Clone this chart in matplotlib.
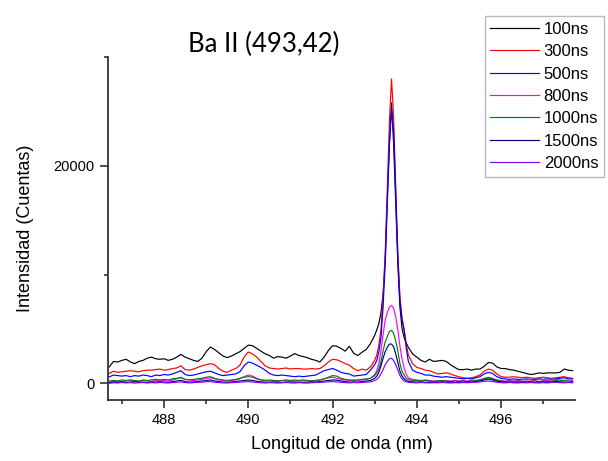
import numpy as np
import matplotlib
matplotlib.use("Agg")
import matplotlib.pyplot as plt
from matplotlib.ticker import MultipleLocator

plt.rcParams['font.family'] = ['Liberation Sans', 'DejaVu Sans']

# wavelength grid: 0.1 nm steps, 0.05 nm around the line
wl = np.round(np.concatenate([
    np.arange(486.7, 492.95, 0.1),
    np.arange(493.0, 493.78, 0.05),
    np.arange(493.8, 497.75, 0.1),
]), 2)

labels = ['100ns', '300ns', '500ns', '800ns', '1000ns', '1500ns', '2000ns']
colors = ['#000000', '#ff0000', '#0000ff', '#ff00ff', '#008000', '#000080', '#8000ff']

s100 = [1500, 2000, 1950, 2100, 2200, 1960, 1800, 2000, 2100, 2300,
        2400, 2250, 2200, 2250, 2100, 2200, 2400, 2650, 2400, 2250,
        2100, 2000, 2300, 2900, 3330, 3100, 2800, 2500, 2350, 2500,
        2700, 2900, 3200, 3500, 3450, 3200, 2950, 2700, 2550, 2300,
        2450, 2400, 2300, 2500, 2720, 2550, 2450, 2350, 2200, 2100,
        1950, 2400, 3000, 3450, 3400, 3200, 2950, 3400, 2750, 2550,
        2850, 3100, 3650,
        4400, 4900, 5500, 6500, 8200, 11300, 17000, 22000, 25800, 22000,
        16500, 11000, 7000, 5000, 4200, 3700,
        3300, 2700, 2400, 2100, 1950, 2200, 2000, 2050, 2100, 2000,
        1700, 1450, 1250, 1250, 1300, 1200, 1300, 1300, 1550, 1900,
        1850, 1500, 1350, 1350, 1250, 1200, 1100, 1000, 900, 800,
        850, 950, 900, 950, 950, 950, 1000, 1300, 1200, 1150]

s300 = [900, 1100, 1000, 1050, 1100, 1150, 1100, 1050, 1150, 1200,
        1200, 1250, 1300, 1200, 1250, 1350, 1400, 1600, 1250, 1200,
        1300, 1450, 1600, 1700, 1800, 1700, 1350, 1100, 1000, 1200,
        1350, 1650, 2400, 2870, 2700, 2400, 2000, 1600, 1400, 1350,
        1300, 1350, 1400, 1300, 1350, 1350, 1300, 1300, 1350, 1300,
        1350, 1600, 1950, 2200, 2150, 2000, 1800, 1650, 1350, 1150,
        1300, 1200, 1500,
        2100, 2600, 3500, 5000, 8000, 12000, 18000, 24000, 28000, 24500,
        18000, 12000, 8000, 6000, 5000, 3600,
        2600, 1800, 1450, 1350, 1200, 1150, 1000, 850, 900, 950,
        850, 700, 600, 500, 450, 500, 600, 750, 1100, 1300,
        1200, 850, 600, 550, 550, 600, 550, 500, 550, 500,
        450, 500, 550, 500, 450, 500, 550, 600, 500, 450]

s500 = [580, 750, 700, 650, 700, 600, 700, 650, 750, 700,
        600, 750, 700, 800, 750, 850, 1000, 1150, 800, 700,
        750, 850, 950, 1050, 1100, 950, 800, 700, 750, 800,
        850, 1050, 1600, 1950, 1850, 1650, 1450, 1200, 900, 750,
        700, 750, 700, 650, 600, 650, 600, 650, 700, 750,
        950, 1150, 1250, 1350, 1200, 1000, 900, 850, 650, 700,
        750, 800, 1200,
        1700, 2100, 2900, 4200, 7000, 11000, 16500, 22000, 25200, 23000,
        17500, 11500, 7500, 5800, 4800, 3200,
        2000, 1200, 1000, 900, 750, 750, 650, 600, 550, 600,
        550, 500, 450, 400, 450, 400, 500, 600, 850, 1000,
        900, 600, 450, 400, 350, 400, 350, 350, 400, 350,
        350, 400, 350, 400, 350, 400, 450, 500, 400, 400]

s800 = [100, 150, 200, 150, 200, 250, 200, 150, 250, 200,
        150, 250, 300, 250, 200, 300, 400, 550, 350, 300,
        250, 300, 350, 450, 500, 400, 300, 250, 200, 250,
        300, 400, 600, 750, 650, 450, 300, 250, 200, 250,
        200, 250, 200, 250, 300, 250, 200, 250, 200, 250,
        300, 400, 500, 550, 450, 350, 300, 250, 300, 250,
        300, 350, 450,
        800, 1150, 1800, 3000, 4500, 5800, 6500, 7000, 7150, 6900,
        6100, 4900, 3400, 2200, 1400, 800,
        500, 350, 300, 250, 300, 250, 200, 250, 200, 250,
        200, 250, 200, 250, 200, 300, 250, 300, 450, 550,
        450, 300, 250, 200, 250, 300, 250, 300, 350, 300,
        250, 350, 300, 250, 300, 350, 300, 250, 300, 250]

s1000 = [200, 250, 200, 300, 250, 300, 250, 200, 300, 250,
         300, 350, 300, 350, 300, 400, 450, 500, 350, 300,
         350, 400, 450, 550, 600, 450, 350, 300, 250, 300,
         350, 450, 550, 600, 550, 400, 300, 250, 300, 250,
         200, 250, 300, 250, 200, 250, 300, 250, 200, 250,
         300, 400, 550, 700, 650, 450, 350, 300, 250, 300,
         350, 400, 450,
         700, 950, 1300, 2000, 3000, 3800, 4300, 4750, 4860, 4600,
         3900, 3000, 1800, 1100, 750, 450,
         350, 250, 250, 200, 250, 200, 150, 200, 250, 200,
         150, 200, 150, 200, 150, 200, 250, 300, 400, 500,
         400, 250, 200, 150, 200, 150, 200, 150, 200, 150,
         200, 150, 200, 150, 200, 250, 200, 250, 200, 150]

s1500 = [50, 100, 80, 120, 60, 100, 140, 80, 100, 60,
         120, 100, 150, 100, 80, 150, 200, 250, 150, 100,
         120, 150, 200, 250, 300, 200, 150, 100, 80, 120,
         150, 200, 250, 300, 250, 180, 120, 100, 80, 120,
         100, 60, 100, 120, 80, 100, 60, 100, 120, 100,
         150, 200, 250, 300, 280, 200, 150, 100, 120, 100,
         150, 200, 250,
         450, 650, 1000, 1600, 2300, 2900, 3300, 3600, 3600, 3350,
         2700, 1900, 1100, 650, 400, 250,
         180, 120, 100, 120, 80, 100, 60, 100, 120, 80,
         100, 60, 100, 80, 120, 100, 150, 200, 300, 380,
         300, 180, 120, 80, 100, 60, 100, 80, 120, 100,
         60, 100, 120, 80, 100, 150, 120, 100, 80, 100]

s2000 = [0, 40, 20, 60, 30, 50, 10, 40, 60, 20,
         50, 30, 70, 40, 20, 60, 90, 120, 60, 30,
         50, 80, 100, 130, 150, 90, 60, 30, 20, 50,
         70, 100, 120, 150, 110, 70, 40, 20, 50, 30,
         10, 40, 60, 30, 20, 50, 30, 10, 40, 60,
         80, 100, 130, 150, 120, 80, 50, 30, 60, 40,
         70, 100, 120,
         250, 350, 550, 850, 1250, 1700, 2000, 2250, 2290, 2100,
         1700, 1200, 700, 400, 200, 120,
         80, 50, 30, 60, 40, 20, 50, 30, 60, 40,
         20, 50, 30, 60, 40, 70, 90, 120, 170, 200,
         150, 90, 50, 30, 60, 40, 20, 50, 30, 60,
         40, 20, 50, 30, 60, 80, 50, 30, 60, 40]

series = [s100, s300, s500, s800, s1000, s1500, s2000]

fig = plt.figure(figsize=(6.08, 4.61), dpi=100)
ax = fig.add_axes([0.177, 0.132, 0.769, 0.744])

for vals, lab, col in zip(series, labels, colors):
    ax.plot(wl, vals, color=col, lw=0.85, label=lab)

ax.set_xlim(486.66, 497.76)
ax.set_ylim(-1560, 30000)
ax.xaxis.set_major_locator(MultipleLocator(2))
ax.xaxis.set_minor_locator(MultipleLocator(1))
ax.set_yticks([0, 20000])
ax.yaxis.set_minor_locator(MultipleLocator(10000))

for side in ['top', 'right']:
    ax.spines[side].set_visible(False)
for side in ['left', 'bottom']:
    ax.spines[side].set_color('#333333')
    ax.spines[side].set_linewidth(1.3)
ax.tick_params(which='major', direction='out', length=6, width=1.2,
               color='#333333', labelsize=10.5)
ax.tick_params(which='minor', direction='out', length=3, width=1.2,
               color='#333333')

ax.set_xlabel('Longitud de onda (nm)', fontsize=13, labelpad=6)
ax.set_ylabel('Intensidad (Cuentas)', fontsize=13, labelpad=14)

fig.text(0.433, 0.888, 'Ba II (493,42)', fontsize=18.5, ha='center',
         va='baseline', family=['Lato', 'DejaVu Sans'])

leg = fig.legend(loc='upper left', bbox_to_anchor=(0.797, 0.965),
                 fontsize=12, frameon=True, fancybox=False,
                 handlelength=2.9, handletextpad=0.3, labelspacing=0.44,
                 borderpad=0.35, borderaxespad=0)
leg.get_frame().set_edgecolor('#aaaaaa')
leg.get_frame().set_linewidth(1.0)

fig.savefig('out.png', dpi=100)
